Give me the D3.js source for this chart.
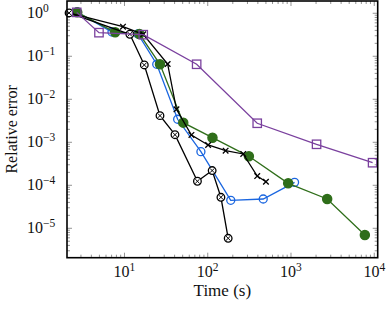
<!DOCTYPE html>
<html>
<head>
<meta charset="utf-8">
<script src="https://cdn.jsdelivr.net/npm/d3@7"></script>
<style>
  body { margin: 0; background: #fff; }
</style>
</head>
<body>
<script>
'use strict';

// Data: time (s) and relative error per method
var purpleTime  = [2.67, 4.94, 16.8, 73.6, 393, 2028, 9550];
var purpleError = [1.05, 0.354, 0.318, 0.0652, 0.00277, 0.000898, 0.000335];

var greenTime  = [2.71, 7.73, 15.1, 26.7, 50.8, 114, 312, 925, 2720, 7710];
var greenError = [1.05, 0.361, 0.330, 0.0652, 0.00286, 0.00128, 0.000472, 0.000111, 4.8e-5, 6.98e-6];

var blueTime  = [2.69, 7.08, 14.5, 24.4, 43.5, 82.8, 189, 464, 1104];
var blueError = [1.07, 0.367, 0.330, 0.0652, 0.00343, 0.000604, 4.48e-5, 4.8e-5, 0.000117];

var crossTime  = [2.16, 9.59, 16.8, 33.0, 42.1, 63.7, 101, 164, 267, 393, 500];
var crossError = [1.02, 0.488, 0.325, 0.0662, 0.00585, 0.00148, 0.000865, 0.000638, 0.000535, 0.000164, 0.000121];

var otimesTime  = [2.16, 11.6, 17.3, 26.7, 40.4, 75.2, 113, 144, 176];
var otimesError = [1.02, 0.325, 0.0628, 0.00416, 0.00150, 0.000124, 0.000220, 5.26e-5, 5.85e-6];

var xTickExp = [1, 2, 3, 4];
var yTickExp = [0, -1, -2, -3, -4, -5];

(function() {

  var width = 391;
  var height = 310;
  var left = 67, right = 377.7, top = 1, bottom = 257.7;

  var svg = d3.select("body")
      .append("svg")
      .attr("width", width)
      .attr("height", height)
      .attr("font-family", "'Liberation Serif', 'DejaVu Serif', serif");

  var x = d3.scaleLog().domain([2.04, 11000]).range([left, right]);
  var y = d3.scaleLog().domain([2.07e-6, 1.93]).range([bottom, top]);

  // minor + major tick values inside the domain
  function logTicks(scale) {
    var d = scale.domain(), major = [], minor = [];
    var lo = Math.floor(Math.log10(d[0])), hi = Math.ceil(Math.log10(d[1]));
    for (var e = lo; e <= hi; e++) {
      for (var m = 1; m < 10; m++) {
        var v = m * Math.pow(10, e);
        if (v < d[0] || v > d[1]) continue;
        if (m === 1) major.push(v); else minor.push(v);
      }
    }
    return { major: major, minor: minor };
  }

  var xt = logTicks(x), yt = logTicks(y);
  var ticks = svg.append("g").attr("stroke", "#666").attr("stroke-width", 0.7);

  // ticks point inward on all four sides
  [[xt.minor, 3], [xt.major, 5]].forEach(function(t) {
    ticks.selectAll(null).data(t[0]).enter().append("line")
        .attr("x1", x).attr("x2", x)
        .attr("y1", bottom).attr("y2", bottom - t[1]);
    ticks.selectAll(null).data(t[0]).enter().append("line")
        .attr("x1", x).attr("x2", x)
        .attr("y1", top).attr("y2", top + t[1]);
  });
  [[yt.minor, 3], [yt.major, 5]].forEach(function(t) {
    ticks.selectAll(null).data(t[0]).enter().append("line")
        .attr("y1", y).attr("y2", y)
        .attr("x1", left).attr("x2", left + t[1]);
    ticks.selectAll(null).data(t[0]).enter().append("line")
        .attr("y1", y).attr("y2", y)
        .attr("x1", right).attr("x2", right - t[1]);
  });

  // tick labels 10^n
  function power(sel, e) {
    sel.append("tspan").text("10");
    sel.append("tspan").attr("dy", -6).attr("font-size", 11.5)
        .text(e < 0 ? "\u2212" + (-e) : e);
  }

  xTickExp.forEach(function(e) {
    var t = svg.append("text")
        .attr("x", x(Math.pow(10, e))).attr("y", 277)
        .attr("text-anchor", "middle").attr("font-size", 16).attr("fill", "#111");
    power(t, e);
  });

  yTickExp.forEach(function(e) {
    var t = svg.append("text")
        .attr("x", 27).attr("y", y(Math.pow(10, e)) + 5)
        .attr("font-size", 16).attr("fill", "#111");
    power(t, e);
  });

  svg.append("text")
      .attr("x", (left + right) / 2).attr("y", 296)
      .attr("text-anchor", "middle").attr("font-size", 17).attr("fill", "#111")
      .text("Time (s)");

  svg.append("text")
      .attr("transform", "translate(17," + ((top + bottom) / 2) + ") rotate(-90)")
      .attr("text-anchor", "middle").attr("font-size", 16).attr("fill", "#111")
      .text("Relative error");

  var line = d3.line()
      .x(function(d) { return x(d[0]); })
      .y(function(d) { return y(d[1]); });

  function series(times, errors, color, mark) {
    var pts = d3.zip(times, errors);
    var g = svg.append("g");
    g.append("path")
        .attr("d", line(pts))
        .attr("fill", "none")
        .attr("stroke", color)
        .attr("stroke-width", 1.3);
    var m = g.selectAll(".m").data(pts).enter().append("g")
        .attr("transform", function(d) { return "translate(" + x(d[0]) + "," + y(d[1]) + ")"; })
        .attr("stroke", color)
        .attr("stroke-width", 1.3);
    mark(m, color);
  }

  function square(m) {
    m.append("rect").attr("x", -4.2).attr("y", -4.2).attr("width", 8.4).attr("height", 8.4)
        .attr("fill", "none");
  }
  function dot(m, c) {
    m.append("circle").attr("r", 4.6).attr("fill", c);
  }
  function ring(m) {
    m.append("circle").attr("r", 4).attr("fill", "none");
  }
  function cross(m) {
    m.append("path").attr("d", "M-2.8,-2.8L2.8,2.8M-2.8,2.8L2.8,-2.8");
  }
  function otimes(m) {
    m.append("circle").attr("r", 3.8).attr("fill", "#fff");
    m.append("path").attr("d", "M-2.2,-2.2L2.2,2.2M-2.2,2.2L2.2,-2.2").attr("stroke-width", 1);
  }

  series(blueTime, blueError, "#1a66e0", ring);
  series(greenTime, greenError, "#2f6e1a", dot);
  series(crossTime, crossError, "#000", cross);
  series(otimesTime, otimesError, "#000", otimes);
  series(purpleTime, purpleError, "#7a409e", square);

  // frame
  svg.append("rect")
      .attr("x", left).attr("y", top)
      .attr("width", right - left).attr("height", bottom - top)
      .attr("fill", "none")
      .attr("stroke", "#000")
      .attr("stroke-width", 1.6);

})();
</script>
</body>
</html>
